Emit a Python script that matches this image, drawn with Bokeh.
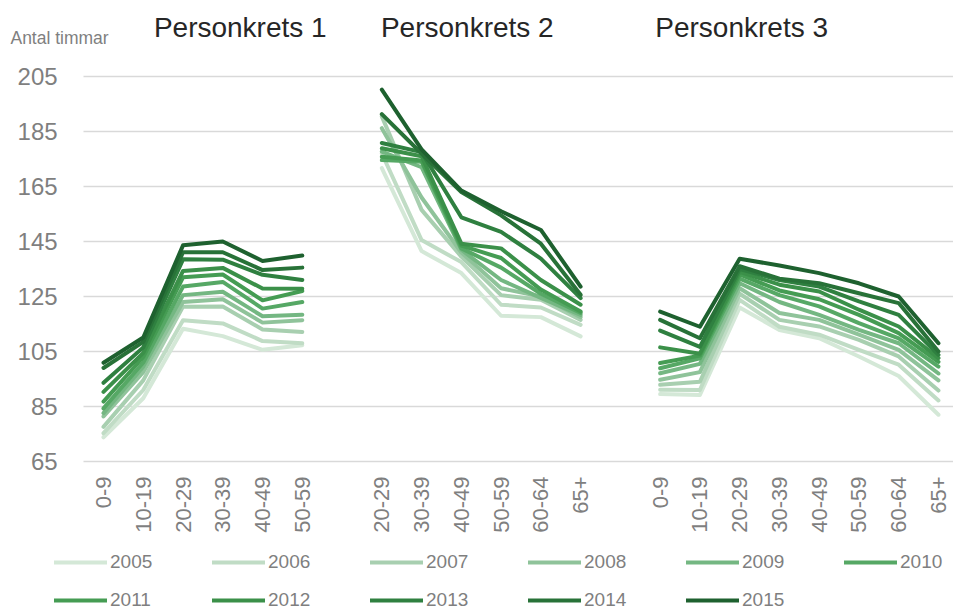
import numpy as np
from bokeh.plotting import figure
from bokeh.models import FixedTicker, Label, Legend, LegendItem, Range1d, ColumnDataSource
from bokeh.embed import file_html
from bokeh.resources import INLINE

years = [2005, 2006, 2007, 2008, 2009, 2010, 2011, 2012, 2013, 2014, 2015]
colors = ["#d4e8d7", "#c0dcc5", "#a8cfb0", "#8fc39a", "#74b782", "#56a865",
          "#459c53", "#3b9049", "#2f8040", "#287238", "#1e612f"]

group_titles = ["Personkrets 1", "Personkrets 2", "Personkrets 3"]
cats_p1 = ["0-9", "10-19", "20-29", "30-39", "40-49", "50-59"]
cats_p2 = ["20-29", "30-39", "40-49", "50-59", "60-64", "65+"]
cats_p3 = ["0-9", "10-19", "20-29", "30-39", "40-49", "50-59", "60-64", "65+"]

# Antal timmar per year, Personkrets 1
p1 = {
    2005: [73.8, 88.0, 113.3, 110.6, 105.6, 107.3],
    2006: [75.3, 91.0, 116.4, 115.2, 108.8, 108.0],
    2007: [77.6, 94.5, 121.3, 121.4, 113.0, 112.1],
    2008: [81.4, 97.5, 123.0, 124.0, 115.5, 116.4],
    2009: [82.6, 99.5, 125.5, 126.7, 117.8, 118.4],
    2010: [84.3, 101.0, 128.6, 130.3, 120.6, 123.0],
    2011: [86.8, 103.0, 132.0, 133.0, 123.6, 127.0],
    2012: [90.3, 104.5, 134.3, 135.4, 127.9, 127.8],
    2013: [93.6, 106.5, 138.5, 138.4, 132.9, 131.0],
    2014: [99.0, 108.5, 141.1, 141.1, 134.6, 135.5],
    2015: [100.9, 110.1, 143.6, 145.0, 137.9, 139.9],
}
# Personkrets 2
p2 = {
    2005: [171.7, 141.5, 133.5, 118.0, 117.5, 110.5],
    2006: [177.0, 145.5, 137.5, 122.0, 121.0, 114.7],
    2007: [190.5, 156.5, 139.5, 125.5, 123.8, 116.5],
    2008: [186.2, 161.0, 141.0, 128.0, 125.0, 117.5],
    2009: [177.7, 172.0, 142.0, 131.0, 124.5, 118.3],
    2010: [174.6, 174.0, 142.5, 135.5, 126.0, 119.0],
    2011: [175.8, 174.5, 143.5, 139.0, 127.5, 119.5],
    2012: [178.9, 176.0, 144.2, 142.5, 131.0, 122.0],
    2013: [180.8, 177.5, 153.8, 148.5, 138.8, 124.4],
    2014: [191.3, 177.0, 163.0, 154.5, 144.2, 125.6],
    2015: [200.2, 178.5, 163.5, 156.0, 149.2, 128.6],
}
# Personkrets 3
p3 = {
    2005: [89.5, 89.2, 121.0, 112.8, 109.8, 103.2, 96.1, 82.0],
    2006: [91.1, 91.0, 123.8, 114.0, 111.1, 105.6, 100.2, 87.2],
    2007: [92.9, 94.0, 126.0, 116.5, 114.1, 109.2, 103.2, 90.8],
    2008: [94.7, 97.5, 128.0, 119.0, 116.5, 111.1, 105.6, 94.5],
    2009: [97.1, 100.5, 129.8, 123.0, 118.3, 112.9, 108.0, 97.0],
    2010: [98.9, 102.5, 131.5, 125.5, 121.4, 115.3, 109.8, 99.5],
    2011: [100.8, 103.5, 133.0, 127.2, 124.0, 118.3, 111.7, 101.2],
    2012: [106.5, 104.2, 134.0, 129.3, 126.8, 120.2, 114.1, 102.6],
    2013: [112.6, 106.7, 135.0, 131.0, 128.6, 123.2, 118.3, 103.8],
    2014: [116.5, 109.8, 136.0, 131.5, 129.8, 126.2, 122.6, 105.0],
    2015: [119.5, 114.0, 138.7, 136.3, 133.5, 129.8, 125.0, 108.0],
}

y_ticks = [65, 85, 105, 125, 145, 165, 185, 205]
y_min, y_max = 65, 205

# category slots: groups separated by one empty slot
groups = [(cats_p1, p1), (cats_p2, p2), (cats_p3, p3)]
offsets = []
pos = 0
for cats, _ in groups:
    offsets.append(pos)
    pos += len(cats) + 1
n_slots = pos - 1  # 22 category slots (0..21)

tick_pos = []
tick_lab = {}
for (cats, _), off in zip(groups, offsets):
    for i, c in enumerate(cats):
        tick_pos.append(off + i)
        tick_lab[off + i] = c

FONT = "Liberation Sans"
GRAY = "#7f7f7f"

W, H = 953, 610
# pixel scale of the category axis: slot 0 at 103 px, 39.76 px per slot
sx = 39.76
x_start = -103 / sx
x_end = (W - 103) / sx
x_left_edge = -0.5

p = figure(width=W, height=H, output_backend="svg", toolbar_location=None,
           x_range=Range1d(x_start, x_end), y_range=Range1d(10.818, 232.636),
           min_border_left=0, min_border_right=0, min_border_top=0,
           min_border_bottom=0)
p.outline_line_color = None
p.background_fill_color = "white"
p.border_fill_color = "white"
p.xgrid.visible = False

yg = p.ygrid[0]
yg.ticker = FixedTicker(ticks=y_ticks)
yg.grid_line_color = "#d9d9d9"
yg.grid_line_width = 1.5
has_cross = "cross_bounds" in yg.properties()
if has_cross:
    yg.cross_bounds = (x_left_edge, n_slots + 1)
else:
    yg.visible = False
    p.segment(x0=[x_left_edge] * len(y_ticks), x1=[n_slots + 1] * len(y_ticks),
              y0=y_ticks, y1=y_ticks, line_color="#d9d9d9", line_width=1.5)

ya = p.yaxis[0]
ya.fixed_location = x_left_edge
ya.ticker = FixedTicker(ticks=y_ticks)
ya.axis_line_color = None
ya.major_tick_line_color = None
ya.minor_tick_line_color = None
ya.major_label_standoff = 20
ya.major_label_text_font = FONT
ya.major_label_text_font_size = "24px"
ya.major_label_text_color = GRAY

xa = p.xaxis[0]
xa.fixed_location = y_min
xa.ticker = FixedTicker(ticks=tick_pos)
xa.major_label_overrides = {k: v for k, v in tick_lab.items()}
xa.major_label_orientation = np.pi / 2
xa.axis_line_color = None
xa.major_tick_line_color = None
xa.minor_tick_line_color = None
xa.major_label_standoff = 9
xa.major_label_text_font = FONT
xa.major_label_text_font_size = "22px"
xa.major_label_text_color = GRAY

items = []
for yr, col in zip(years, colors):
    xs, ys = [], []
    for (cats, data), off in zip(groups, offsets):
        for i, v in enumerate(data[yr]):
            xs.append(off + i)
            ys.append(v)
        xs.append(np.nan)
        ys.append(np.nan)
    src = ColumnDataSource(dict(x=xs, y=ys))
    r = p.line("x", "y", source=src, line_color=col, line_width=4,
               line_join="round", line_cap="round")
    items.append(LegendItem(label=str(yr), renderers=[r]))

legend = Legend(items=items, ncols=6, orientation="horizontal",
                location=(54, -1), padding=0, margin=0,
                glyph_width=53, glyph_height=20, label_standoff=3,
                label_width=86, label_height=20, spacing=16,
                border_line_color=None, background_fill_alpha=0,
                label_text_font=FONT, label_text_font_size="19px",
                label_text_color=GRAY)
p.add_layout(legend, "center")

# group titles
title_x = [3.44, 9.15, 16.05]
for t, xv in zip(group_titles, title_x):
    p.add_layout(Label(x=xv, y=222.7, text=t, text_align="center",
                       text_baseline="alphabetic", text_font=FONT,
                       text_font_size="28px", text_color="#262626"))

p.add_layout(Label(x=-2.34, y=219.1, text="Antal timmar", text_align="left",
                   text_baseline="alphabetic", text_font=FONT,
                   text_font_size="17.5px", text_color=GRAY))

open("out.html", "w").write(file_html(p, INLINE))
